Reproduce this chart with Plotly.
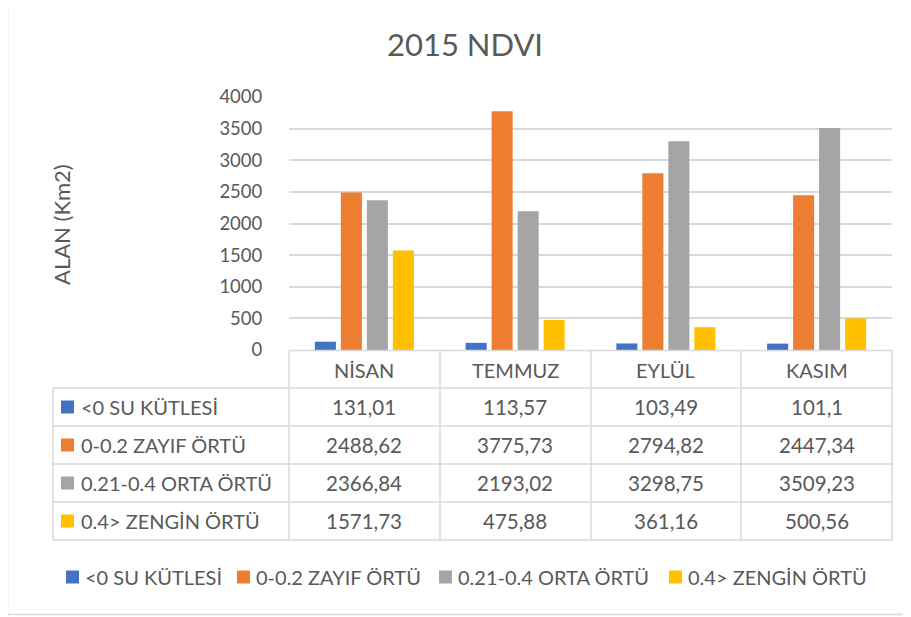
import plotly.graph_objects as go

categories = ["NİSAN", "TEMMUZ", "EYLÜL", "KASIM"]
series_names = ["<0 SU KÜTLESİ", "0-0.2 ZAYIF ÖRTÜ", "0.21-0.4 ORTA ÖRTÜ", "0.4> ZENGİN ÖRTÜ"]
su = [131.01, 113.57, 103.49, 101.1]
zayif = [2488.62, 3775.73, 2794.82, 2447.34]
orta = [2366.84, 2193.02, 3298.75, 3509.23]
zengin = [1571.73, 475.88, 361.16, 500.56]
series_values = [su, zayif, orta, zengin]
colors = ["#4472C4", "#ED7D31", "#A5A5A5", "#FFC000"]

OFF = 8  # page body margin
W, H = 911 - OFF, 617 - OFF
L, R, T, B = 289, 892, 97, 350  # target screen pixels of plot area
FONT = "Lato"
TXT = "#595959"
GRID = "#D9D9D9"

def px(xp):
    return (xp - L) / (R - L)

def py(yp):
    return (B - yp) / (B - T)

def fmt(v):
    s = ("%.2f" % v).rstrip("0").rstrip(".")
    return s.replace(".", ",")

fig = go.Figure()
for name, vals, c in zip(series_names, series_values, colors):
    fig.add_trace(go.Bar(x=categories, y=vals, name=name, marker=dict(color=c, line=dict(width=0)),
                         showlegend=False))

shapes = []
annotations = []

# outer chart border
shapes.append(dict(type="rect", xref="paper", yref="paper", x0=px(7.5), x1=px(940), y0=py(614.5), y1=py(0.5),
                   line=dict(color="#D9D9D9", width=1.5), layer="below"))

# table lines
row_tops = [351, 388, 426, 464, 502, 540]
col_x = [289, 440, 591, 741, 892]
shapes.append(dict(type="line", xref="paper", yref="paper", x0=px(289), x1=px(892), y0=py(350.5), y1=py(350.5),
                   line=dict(color=GRID, width=1.5)))
for yy in row_tops[1:]:
    shapes.append(dict(type="line", xref="paper", yref="paper", x0=px(53), x1=px(892), y0=py(yy), y1=py(yy),
                       line=dict(color=GRID, width=1.5)))
for xx in col_x:
    shapes.append(dict(type="line", xref="paper", yref="paper", x0=px(xx), x1=px(xx), y0=py(350.5), y1=py(540),
                       line=dict(color=GRID, width=1.5)))
shapes.append(dict(type="line", xref="paper", yref="paper", x0=px(53), x1=px(53), y0=py(388), y1=py(540),
                   line=dict(color=GRID, width=1.5)))

# header labels
for cat in categories:
    annotations.append(dict(x=cat, xref="x", y=py(369.5), yref="paper", text=cat, showarrow=False,
                            font=dict(family=FONT, size=20, color=TXT), xanchor="center", yanchor="middle"))

row_centers = [407, 445, 483, 521]
for i, (name, vals, c) in enumerate(zip(series_names, series_values, colors)):
    yc = row_centers[i]
    shapes.append(dict(type="rect", xref="paper", yref="paper", x0=px(61), x1=px(74), y0=py(yc - 6.5), y1=py(yc + 6.5),
                       fillcolor=c, line=dict(width=0)))
    annotations.append(dict(x=px(79), xref="paper", y=py(yc), yref="paper", text=name, showarrow=False,
                            font=dict(family=FONT, size=20, color=TXT), xanchor="left", yanchor="middle"))
    for cat, v in zip(categories, vals):
        annotations.append(dict(x=cat, xref="x", y=py(yc), yref="paper", text=fmt(v), showarrow=False,
                                font=dict(family=FONT, size=20.5, color=TXT), xanchor="center", yanchor="middle"))

# bottom legend
leg_sq = [66, 237, 439, 669]
for name, c, x0 in zip(series_names, colors, leg_sq):
    shapes.append(dict(type="rect", xref="paper", yref="paper", x0=px(x0), x1=px(x0 + 13), y0=py(577 - 6.5),
                       y1=py(577 + 6.5), fillcolor=c, line=dict(width=0)))
    annotations.append(dict(x=px(x0 + 17), xref="paper", y=py(577), yref="paper", text=name, showarrow=False,
                            font=dict(family=FONT, size=20, color=TXT), xanchor="left", yanchor="middle"))

# y axis title
annotations.append(dict(x=px(61), xref="paper", y=py(225), yref="paper", text="ALAN (Km2)", textangle=-90,
                        showarrow=False, font=dict(family=FONT, size=22, color=TXT),
                        xanchor="center", yanchor="middle"))

fig.update_layout(
    width=W, height=H,
    margin=dict(l=L - OFF, r=W - (R - OFF), t=T - OFF, b=H - (B - OFF), pad=0),
    paper_bgcolor="white", plot_bgcolor="white",
    barmode="group", bargap=0.31, bargroupgap=0.19,
    title=dict(text="2015 NDVI", x=(465 - OFF) / W, xanchor="center", y=1 - (45 - OFF) / H, yanchor="middle",
               font=dict(family=FONT, size=31, color=TXT)),
    xaxis=dict(showticklabels=False, showgrid=False, zeroline=False, showline=False, ticks=""),
    yaxis=dict(range=[0, 4000], dtick=500, showgrid=True, gridcolor=GRID, gridwidth=1.5, zeroline=False,
               showline=False, ticks="outside", ticklen=22, tickcolor="rgba(0,0,0,0)",
               tickfont=dict(family=FONT, size=18.5, color=TXT)),
    shapes=shapes, annotations=annotations,
    font=dict(family=FONT, color=TXT),
)

fig.write_html("out.html")
